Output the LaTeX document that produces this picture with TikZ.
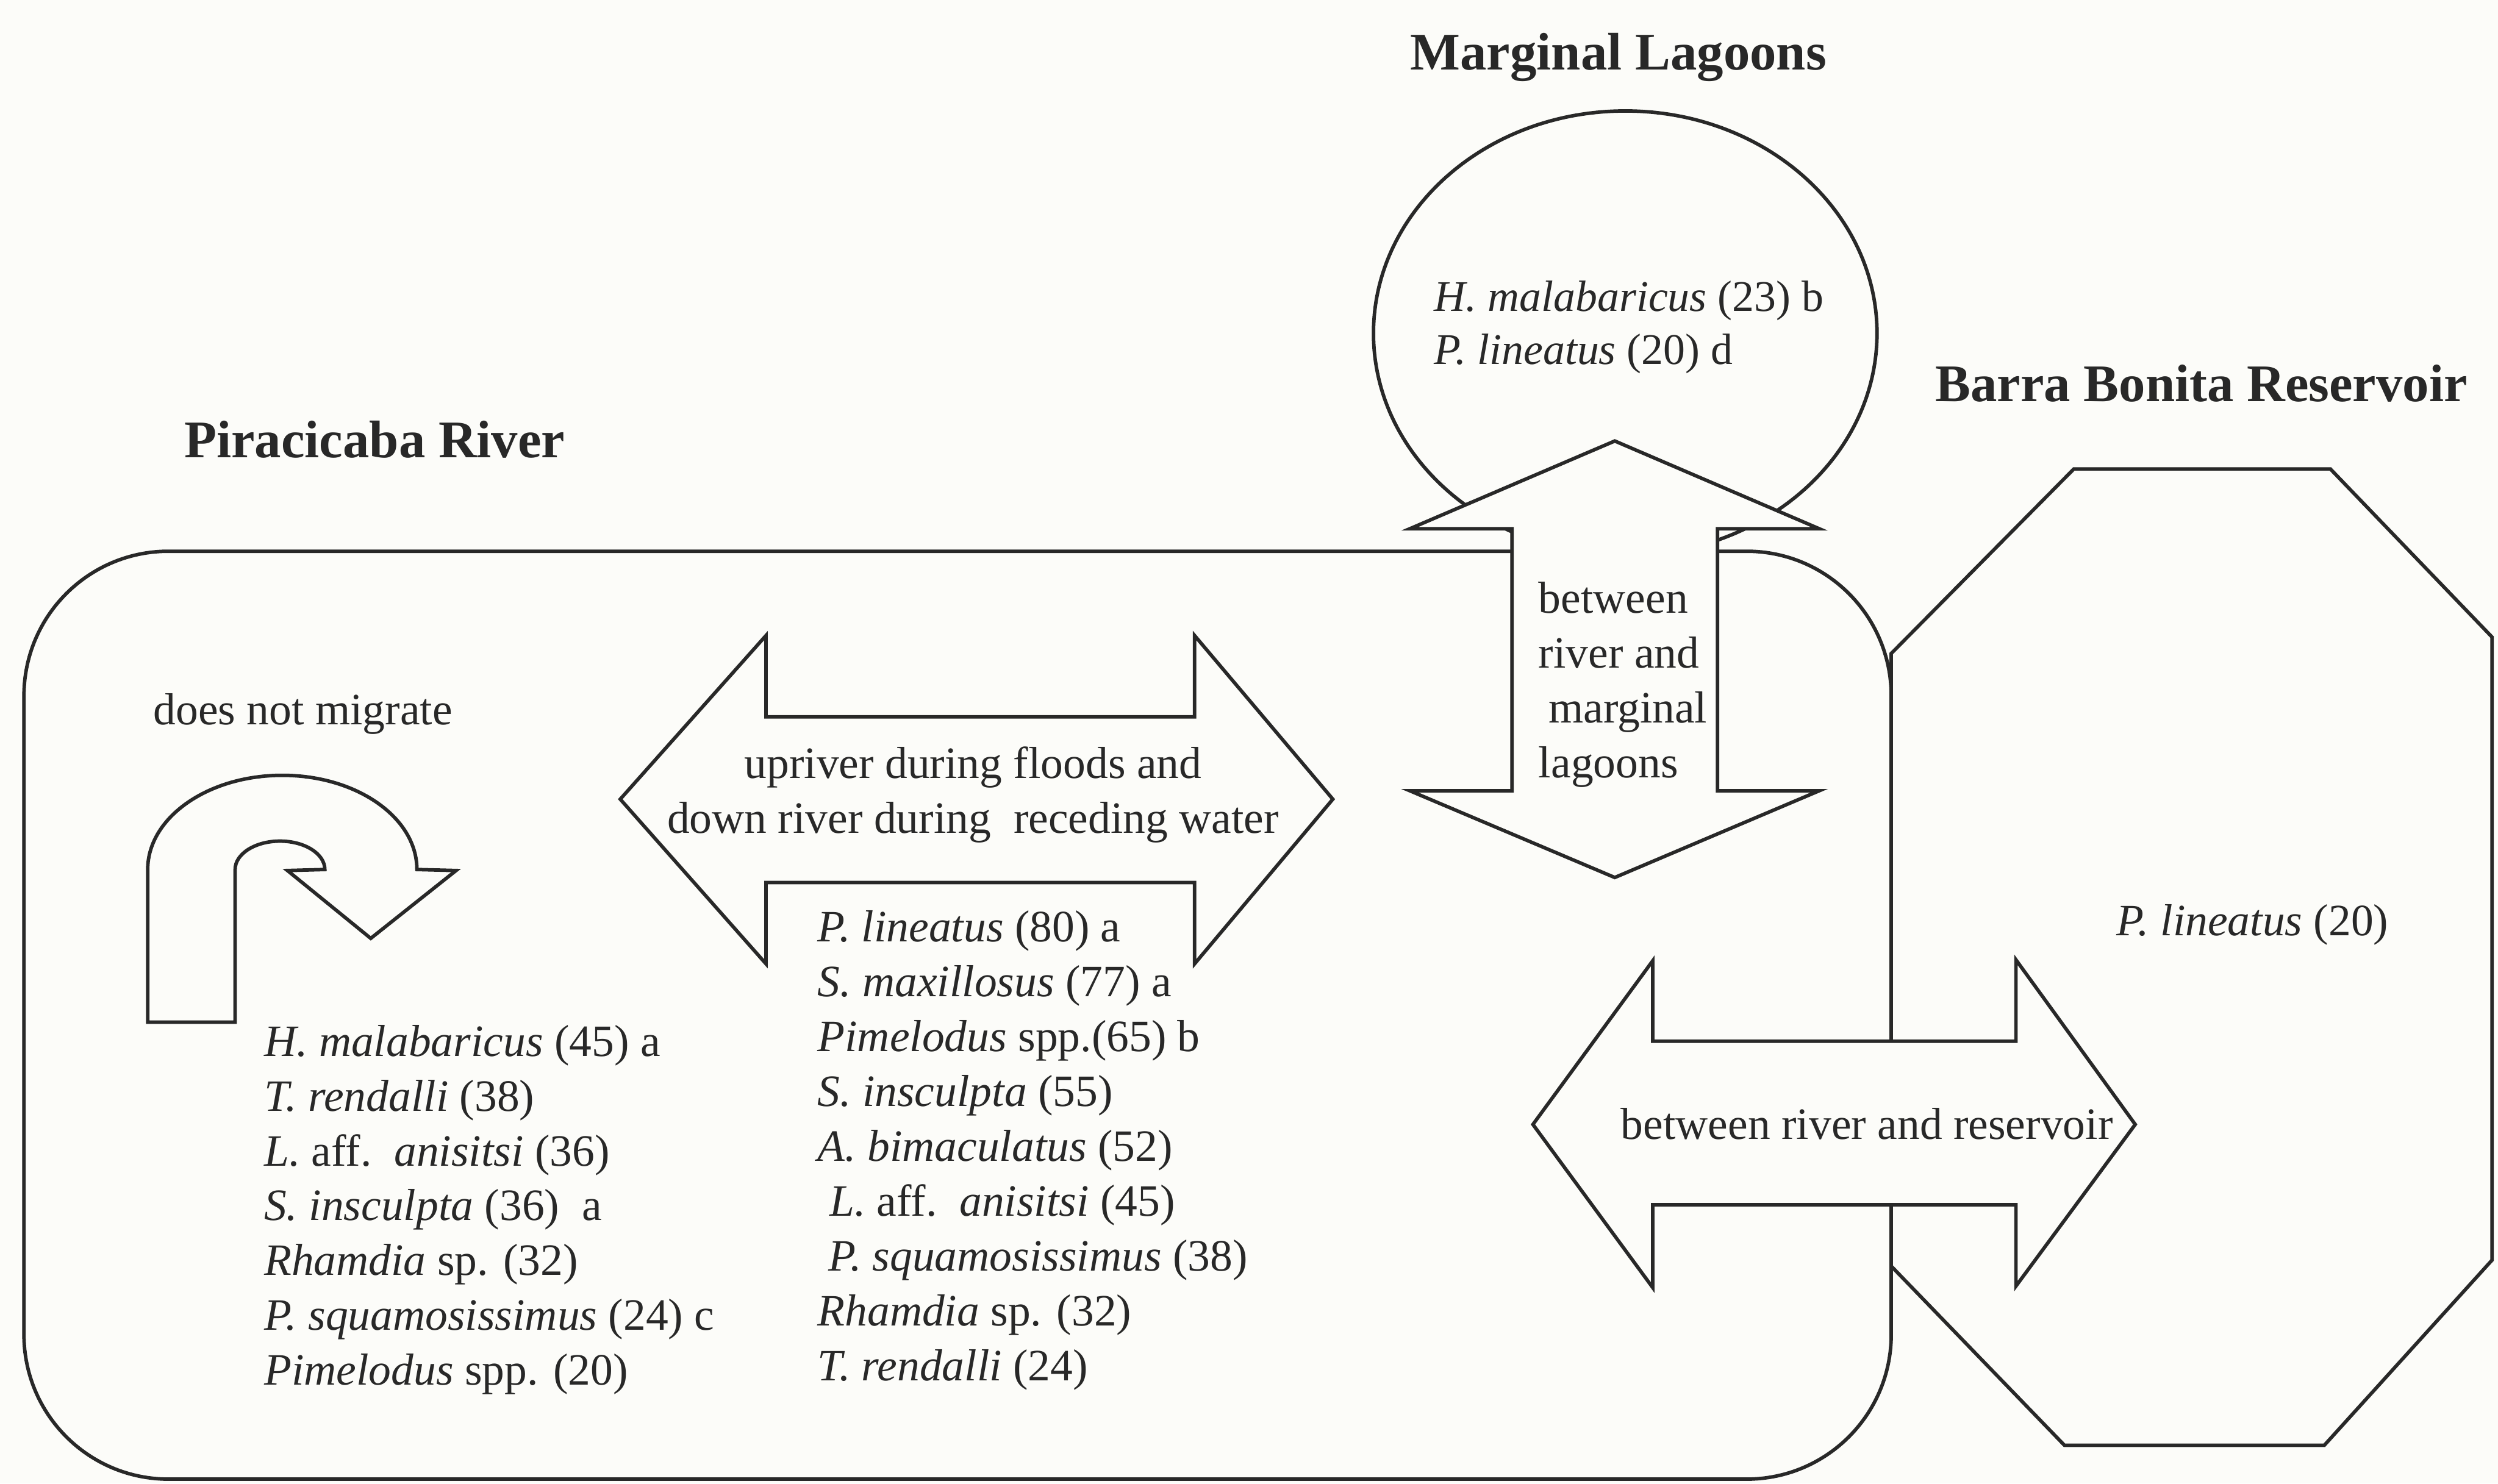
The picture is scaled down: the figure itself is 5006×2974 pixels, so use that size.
\documentclass[tikz,border=0pt]{standalone}
\usepackage{fontspec}
\setmainfont{Liberation Serif}
\definecolor{paper}{RGB}{252,252,249}
\definecolor{ink}{RGB}{40,40,40}
\tikzset{
  outline/.style={draw=ink, line width=1pt, line join=miter},
  blockarrow/.style={outline, fill=paper},
  titletext/.style={font=\fontsize{15.1}{18}\selectfont\bfseries, text=ink, inner sep=0pt, anchor=base west},
  bodytext/.style={font=\fontsize{12.8}{15.65}\selectfont, text=ink, inner sep=0pt, anchor=base west},
  tighttext/.style={font=\fontsize{12.5}{15.2}\selectfont, text=ink, inner sep=0pt, anchor=base west},
}
\newcommand{\lstL}[1]{\begin{tabular}[t]{@{}l@{}}#1\end{tabular}}
\newcommand{\lstC}[1]{\begin{tabular}[t]{@{}c@{}}#1\end{tabular}}
\begin{document}
\begin{tikzpicture}[x=0.005cm, y=-0.005cm]
\fill[paper] (0,0) rectangle (5006,2974);
\useasboundingbox (0,0) rectangle (5006,2974);

% Piracicaba River region
\draw[outline, rounded corners=1.45cm] (48,1105) rectangle (3790,2965);
% Barra Bonita Reservoir region (octagon)
\draw[outline] (4156,940) -- (4670,940) -- (4994,1277) -- (4994,2526) -- (4658,2897)
  -- (4137,2897) -- (3790,2538) -- (3790,1310) -- cycle;
% Marginal Lagoons region (ellipse)
\draw[outline] (3257,668) ellipse [x radius=2.525cm, y radius=2.23cm];

% vertical double arrow: river <-> lagoons
\draw[blockarrow] (3236,884) -- (3646,1060) -- (3442,1060) -- (3442,1585) -- (3646,1585)
  -- (3236,1759) -- (2825,1585) -- (3030,1585) -- (3030,1060) -- (2825,1060) -- cycle;
% horizontal double arrow: upriver / downriver
\draw[blockarrow] (1243,1602) -- (1535,1274) -- (1535,1437) -- (2394,1437) -- (2394,1274)
  -- (2671,1602) -- (2394,1932) -- (2394,1769) -- (1535,1769) -- (1535,1932) -- cycle;
% horizontal double arrow: river <-> reservoir
\draw[blockarrow] (3072,2254) -- (3312,1926) -- (3312,2087) -- (4040,2087) -- (4040,1924)
  -- (4279,2254) -- (4040,2578) -- (4040,2415) -- (3312,2415) -- (3312,2581) -- cycle;
% U-turn arrow: does not migrate
\draw[blockarrow] (296,2049) -- (296,1743)
  arc[start angle=180, end angle=0, x radius=1.35cm, y radius=0.945cm]
  -- (914,1745) -- (743,1881) -- (576,1745) -- (651,1743)
  arc[start angle=0, end angle=180, x radius=0.45cm, y radius=0.285cm]
  -- (471,2049) -- cycle;

% titles
\node[titletext] (tML) at (2825,140) {Marginal Lagoons};
\node[titletext] (tBB) at (3877,805) {Barra Bonita Reservoir};
\node[titletext] (tPR) at (368,917) {Piracicaba River};

% lagoon species
\node[tighttext] (lagoon) at (2873,624) {\lstL{\textit{H. malabaricus} (23) b\\ \textit{P. lineatus} (20) d}};

% reservoir species
\node[bodytext] (reserv) at (4240,1875) {\textit{P. lineatus} (20)};

% arrow labels
\node[bodytext] (nomig) at (306,1452) {does not migrate};
\node[bodytext, anchor=base] (updown) at (1950,1560) {\lstC{upriver during floods and\\ down river during\ \ receding water}};
\node[bodytext] (rivlag) at (3082,1229) {\lstL{between\\ river and\\ \hspace{0.1cm}marginal\\ lagoons}};
\node[bodytext] (rivres) at (3247,2284) {between river and reservoir};

% resident species list
\node[bodytext] (resident) at (528,2117) {\lstL{%
\textit{H. malabaricus} (45) a\\
\textit{T. rendalli} (38)\\
\textit{L.} aff.\ \ \textit{anisitsi} (36)\\
\textit{S. insculpta} (36)\ \ a\\
\textit{Rhamdia} sp. (32)\\
\textit{P. squamosissimus} (24) c\\
\textit{Pimelodus} spp. (20)}};

% migratory species list
\node[bodytext] (migrant) at (1637,1888) {\lstL{%
\textit{P. lineatus} (80) a\\
\textit{S. maxillosus} (77) a\\
\textit{Pimelodus} spp.(65) b\\
\textit{S. insculpta} (55)\\
\textit{A. bimaculatus} (52)\\
\hspace{0.12cm}\textit{L.} aff.\ \ \textit{anisitsi} (45)\\
\hspace{0.11cm}\textit{P. squamosissimus} (38)\\
\textit{Rhamdia} sp. (32)\\
\textit{T. rendalli} (24)}};
\end{tikzpicture}
\end{document}
